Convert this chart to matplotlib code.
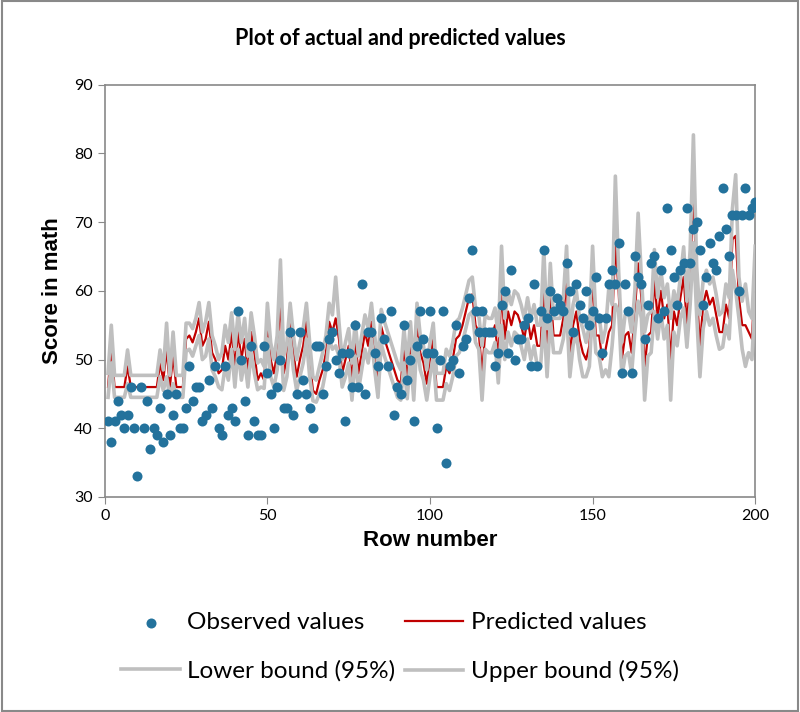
import numpy as np
import matplotlib.pyplot as plt

# Observed math scores, rows 1..200
observed = [41, 38, 41, 44, 42, 40, 42, 46, 40, 33,
            46, 40, 44, 37, 40, 39, 43, 38, 45, 39,
            42, 45, 40, 40, 43, 49, 44, 46, 46, 41,
            42, 47, 43, 49, 40, 39, 49, 42, 43, 41,
            57, 50, 44, 39, 52, 41, 39, 39, 52, 48,
            45, 40, 46, 50, 43, 43, 54, 42, 45, 54,
            47, 45, 43, 40, 52, 52, 45, 49, 53, 54,
            50, 48, 51, 41, 51, 46, 55, 46, 61, 45,
            54, 54, 51, 49, 56, 53, 49, 57, 42, 46,
            45, 55, 47, 50, 41, 52, 57, 53, 51, 57,
            51, 40, 50, 57, 35, 49, 50, 55, 48, 52,
            53, 59, 66, 57, 54, 57, 54, 54, 54, 49,
            51, 58, 60, 51, 63, 50, 53, 53, 55, 56,
            49, 61, 49, 57, 66, 56, 60, 57, 59, 58,
            57, 64, 60, 54, 61, 58, 56, 60, 55, 57,
            62, 56, 51, 56, 61, 63, 61, 67, 48, 61,
            57, 48, 65, 62, 61, 53, 58, 64, 65, 56,
            63, 57, 72, 66, 62, 58, 63, 64, 72, 64,
            69, 70, 66, 58, 62, 67, 64, 63, 68, 75,
            69, 65, 71, 71, 60, 71, 75, 71, 72, 73]

predicted = [46, 52, 46, 46, 46, 46, 49, 46, 46, 46,
             46, 46, 46, 46, 46, 46, 49.5, 47, 51.5, 46,
             50.5, 46, 46, 46, 53, 53.5, 52.5, 54, 56, 52,
             53, 55.5, 51, 50, 48, 48.5, 52, 50, 54, 49,
             54, 50, 53, 48, 54, 51, 47, 48, 47, 55.5,
             50, 48, 51, 59, 48, 50, 55.5, 51, 47.5, 50,
             52, 55.5, 50, 45.5, 45, 47, 48.5, 51, 55.5, 54,
             56, 53, 48, 50, 52, 47, 53, 48, 51, 54,
             52, 55.5, 51, 47, 54.8, 53, 51.5, 50, 48.5, 47,
             46.5, 52, 47, 53, 46.5, 55.5, 51, 49.5, 46.5, 50,
             53, 46, 46, 46, 49, 48, 50, 53, 53.5, 55,
             57, 59, 59.5, 55, 54, 48, 54, 53.5, 53.5, 55,
             50, 60, 53, 57, 55, 57, 56.5, 55, 53, 56,
             53, 55, 52, 52, 61, 51, 60, 53.5, 53.5, 53.5,
             56, 62, 50.5, 55, 57, 53, 51, 50, 52, 62,
             53.5, 53.5, 50, 51.5, 54, 55, 67, 60, 50, 53.5,
             54, 51, 57, 64, 59, 49, 53.5, 54, 61.5, 56,
             60, 56, 58, 50, 57, 55, 59, 62, 55, 62,
             75, 60, 52, 58, 60, 58, 59, 56.5, 54, 54,
             58, 56, 67.5, 68, 59, 55, 55, 54, 53, 63]

lower = [44.5, 49.5, 44.5, 44.5, 44.5, 44.5, 46.5, 44.5, 44.5, 44.5,
         44.5, 44.5, 44.5, 44.5, 44.5, 44.5, 47.5, 45.5, 47.5, 44.5,
         46.5, 44.5, 44.5, 44.5, 51.2, 51.5, 50.5, 52, 53.5, 50,
         50.5, 53, 48.5, 47.5, 46, 45.6, 49, 47, 51.5, 46,
         51.5, 47, 50, 46, 51, 48, 45.6, 46, 45.8, 53,
         47.5, 46, 48.5, 54, 45.5, 47.5, 53, 48.5, 45.5, 47.5,
         49.5, 53, 47.5, 44, 43.8, 45, 46, 48.5, 53, 51.5,
         52, 50.5, 46, 47.5, 49.5, 44.1, 50.5, 45.5, 48.5, 51.5,
         49.5, 53, 48.5, 44.5, 52.3, 50.5, 49, 47.5, 46, 44.5,
         44.1, 49.5, 44.3, 50.5, 44.1, 53, 48.5, 47, 44.1, 47.5,
         50.5, 44.1, 44.1, 44.1, 46.5, 45.5, 47.5, 50.5, 51, 52.5,
         54.5, 56.5, 57, 52.5, 51.5, 44.1, 51.5, 51, 51, 52.5,
         46.6, 55, 50, 54, 52, 54, 53.5, 52, 50, 53,
         50, 52, 49, 49, 56, 47.5, 56, 51, 51, 51,
         53, 57.5, 47.5, 52, 54, 50, 47.5, 47.5, 49, 57.5,
         51, 50.5, 47.5, 48.5, 47.5, 52, 58, 57, 47.5, 50.5,
         51, 48, 54, 58.5, 56, 44.1, 50.5, 51, 57, 53,
         57, 53, 55, 44.1, 54, 52, 56, 57.5, 51.8, 58,
         67, 56.5, 47.5, 54.5, 57, 55, 56, 53.5, 51.5, 51.8,
         55, 53, 63, 60, 56, 51.5, 49, 51, 50, 59.5]

upper = [48, 55, 47.7, 47.7, 47.7, 47.7, 51.4, 47.7, 47.7, 47.7,
         47.7, 47.7, 47.7, 47.7, 47.7, 47.7, 51.4, 48.5, 55.3, 47.7,
         54, 47.7, 47.7, 47.7, 55.3, 55.3, 54.5, 56, 58.3, 54,
         55.5, 58.3, 53.5, 52, 50, 51, 55, 52.5, 56.8, 51.5,
         56.8, 52.5, 56, 50.5, 56.8, 53.5, 49.5, 50, 49, 58.2,
         52.5, 50, 53.5, 64.5, 50.5, 52.5, 58.2, 53.5, 50, 52.5,
         54.5, 58.2, 52.5, 47.5, 47, 49, 51, 53.5, 58.2, 56.5,
         62, 55.5, 50, 52.5, 54.5, 49.5, 55.5, 50.5, 53.5, 56.5,
         54.5, 58.2, 53.5, 49.5, 57.3, 55.5, 54, 52.5, 51, 49.5,
         48.5, 54.5, 49.5, 55.5, 48.5, 58.2, 53.5, 52, 48.5, 52.5,
         55.3, 48, 48, 48, 51.5, 50.5, 52.5, 55.5, 56, 57.5,
         59.5, 61.5, 62, 57.5, 56.5, 52, 56.5, 56, 56, 57.5,
         53.5, 66.5, 56, 60, 58, 60, 59.5, 58, 56, 59,
         56, 58, 55, 55, 66, 54.5, 64, 56, 56, 56,
         59, 66.5, 53.5, 58, 60, 56, 54.5, 52.5, 55, 66.5,
         56, 56.5, 52.5, 54.5, 60.5, 58, 76.7, 63, 52.5, 56.5,
         57, 54, 60, 71.3, 62, 54, 56.5, 57, 66, 59,
         63, 59, 61, 56, 60, 58, 62, 66.4, 58.5, 66,
         82.7, 63.5, 56.5, 61.5, 63, 61, 62, 59.5, 56.5, 57,
         61, 59, 72, 76.9, 62, 58.5, 61, 57, 56, 66.5]

rows = np.arange(1, len(observed) + 1)

plt.rcParams['font.family'] = ['Lato', 'DejaVu Sans']

fig = plt.figure(figsize=(8, 7.12), dpi=100)
ax = fig.add_axes([0.131, 0.302, 0.813, 0.579])

ax.plot(rows, predicted, color='#C00000', lw=1.6, zorder=2, label='Predicted values')
ax.plot(rows, lower, color='#BFBFBF', lw=2.6, zorder=3, label='Lower bound (95%)')
ax.plot(rows, upper, color='#BFBFBF', lw=2.6, zorder=3, label='Upper bound (95%)')
ax.scatter(rows, observed, s=52, color='#23729C', zorder=4, label='Observed values',
           linewidths=0)

ax.set_xlim(0, 200)
ax.set_ylim(30, 90)
ax.set_xticks(np.arange(0, 201, 50))
ax.set_yticks(np.arange(30, 91, 10))
ax.tick_params(direction='out', length=5, color='#898989', labelsize=11.5)
for s in ax.spines.values():
    s.set_color('#898989')
    s.set_linewidth(1.2)

ax.set_xlabel('Row number', fontsize=16, fontweight='bold', family='Liberation Sans', labelpad=5)
ax.set_ylabel('Score in math', fontsize=16, fontweight='bold', family='Liberation Sans', labelpad=8)
fig.suptitle('Plot of actual and predicted values', fontsize=15.5, fontweight='bold', y=0.96)

h, l = ax.get_legend_handles_labels()
# column-major fill -> rows: Observed | Predicted, Lower | Upper
order = [3, 1, 0, 2]
fig.legend([h[i] for i in order], [l[i] for i in order], ncol=2, loc='center',
           bbox_to_anchor=(0.5, 0.091), frameon=False, fontsize=17.5, handlelength=2.4,
           columnspacing=0.4, handletextpad=0.3, labelspacing=1.1)

# Outer chart border
fig.patches.append(plt.Rectangle((0.002, 0.002), 0.996, 0.996, transform=fig.transFigure,
                                 fill=False, edgecolor='#898989', lw=1.5))

fig.savefig('out.png', dpi=100)
